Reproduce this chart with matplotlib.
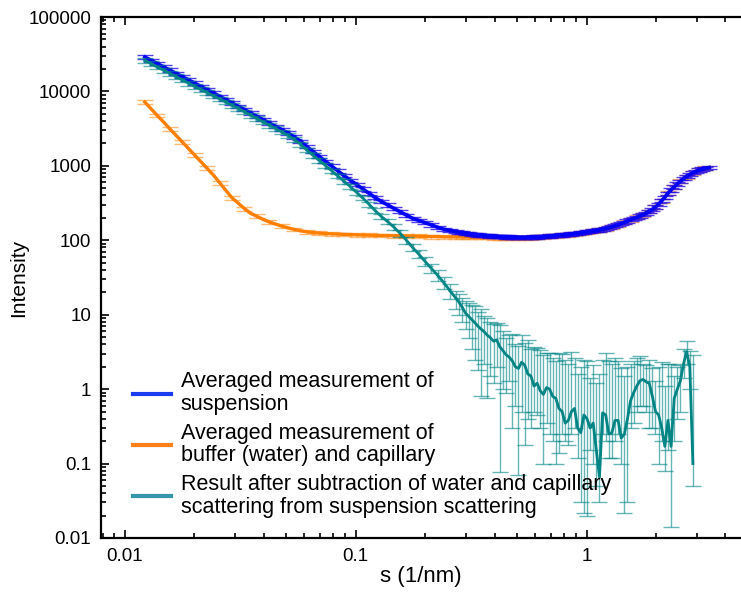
import numpy as np
import matplotlib
matplotlib.use('Agg')
import matplotlib.pyplot as plt
from matplotlib import ticker
from matplotlib.lines import Line2D

# scattering vector s (1/nm), shared by all three curves
s = [0.01220, 0.01298, 0.01381, 0.01470, 0.01564, 0.01664, 0.01771, 0.01884,
     0.02005, 0.02134, 0.02270, 0.02416, 0.02571, 0.02735, 0.02911, 0.03097,
     0.03296, 0.03507, 0.03732, 0.03971, 0.04226, 0.04497, 0.04785, 0.05092,
     0.05418, 0.05765, 0.06135, 0.06528, 0.06947, 0.07392, 0.07866, 0.08370,
     0.08907, 0.09478, 0.1009, 0.1073, 0.1142, 0.1215, 0.1293, 0.1376,
     0.1464, 0.1558, 0.1658, 0.1764, 0.1877, 0.1998, 0.2126, 0.2262,
     0.2407, 0.2561,
     # denser from here on
     0.2725, 0.2811, 0.2900, 0.2991, 0.3086, 0.3183, 0.3284, 0.3387,
     0.3494, 0.3604, 0.3718, 0.3836, 0.3957, 0.4082, 0.4210, 0.4343,
     0.4480, 0.4621, 0.4767, 0.4918, 0.5073, 0.5233, 0.5398, 0.5568,
     0.5744, 0.5925, 0.6112, 0.6305, 0.6504, 0.6709, 0.6921, 0.7139,
     0.7365, 0.7597, 0.7837, 0.8084, 0.8339, 0.8602, 0.8874, 0.9154,
     0.9443, 0.9742, 1.005, 1.037, 1.069, 1.103, 1.138, 1.174,
     1.211, 1.249, 1.288, 1.329, 1.371, 1.414, 1.459, 1.505,
     1.552, 1.601, 1.652, 1.704, 1.758, 1.813, 1.870, 1.929,
     1.990, 2.053, 2.118, 2.185, 2.254, 2.325, 2.398, 2.474,
     2.552, 2.633, 2.716, 2.802, 2.890, 2.981, 3.075, 3.172,
     3.272, 3.400]

# averaged measurement of suspension
suspension = [29000, 26200, 23700, 21400, 19400, 17500, 15850, 14330,
              12960, 11720, 10600, 9560, 8620, 7770, 7010, 6320,
              5700, 5140, 4630, 4180, 3770, 3400, 3060, 2760,
              2450, 2150, 1820, 1560, 1340, 1155, 995, 855,
              736, 641, 560, 490, 428, 374, 331, 298,
              268, 242, 218, 197, 185, 172, 161, 150,
              141, 135,
              130, 128, 126, 124.5, 123, 121, 119, 118,
              117, 116, 115, 114, 113, 112.5, 112, 111.5,
              111, 110.5, 110, 110, 110, 110, 110, 110,
              110, 110.5, 111, 111.5, 112, 113, 114, 115,
              116, 117, 118, 119, 120, 121.5, 123, 124.5,
              126, 128, 130, 132, 134, 136, 138, 141,
              144, 148, 152, 157, 162, 168, 175, 182,
              190, 197, 205, 213, 222, 232, 245, 260,
              280, 305, 340, 380, 430, 475, 520, 570,
              620, 670, 720, 765, 810, 848, 880, 908,
              930, 950]

# averaged measurement of buffer (water) and capillary
buffer = [7200, 5850, 4750, 3900, 3150, 2580, 2100, 1710,
          1390, 1130, 925, 755, 595, 470, 372, 315,
          267, 230, 210, 191, 176, 165, 155, 147,
          140, 134, 130, 127, 125, 123, 122, 121,
          120, 119, 118, 117.5, 117, 116.5, 116, 115.5,
          115, 114.5, 114, 113.5, 113, 112.5, 112, 112,
          111.5, 111,
          111, 111, 110.5, 110.5, 110.5, 110, 110, 110,
          110, 109.5, 109.5, 109, 109, 108.5, 108.5, 108,
          108, 108, 107.5, 108, 108, 108, 108, 108.5,
          108.5, 109.5, 110, 110.5, 111, 112, 113, 114,
          115, 116.5, 117.5, 118.5, 119.5, 121, 122.5, 124,
          125.5, 127.5, 129.5, 131.5, 133.5, 136, 138, 140.5,
          143.5, 147.5, 151.5, 156.5, 161.5, 168, 175, 181.5,
          189, 196, 204, 212, 221, 231, 244, 259,
          279.5, 304.5, 339.5, 380, 429.5, 475, 519, 569,
          619, 668, 717, 763, 810, 848, 880, 908,
          930, 950]

# result after subtraction (runs up to s = 2.89)
result = [26100, 23600, 21300, 19300, 17500, 15800, 14300, 12900,
          11700, 10600, 9650, 8750, 7950, 7200, 6520, 5900,
          5320, 4800, 4320, 3900, 3520, 3170, 2850, 2560,
          2260, 1960, 1630, 1390, 1185, 1010, 860, 730,
          620, 525, 440, 370, 305, 250, 208, 178,
          150, 124, 100, 80, 65, 52, 42, 34,
          27, 21,
          16.5, 14.5, 12.5, 10.5, 9.5, 8.6, 7.8, 7.0,
          6.4, 5.9, 5.3, 4.9, 4.4, 4.6, 3.7, 3.3,
          2.9, 2.7, 2.4, 2.0, 1.9, 2.3, 2.1, 1.6,
          1.5, 1.1, 1.2, 0.95, 0.85, 1.05, 1.0, 0.8,
          0.75, 0.55, 0.5, 0.35, 0.38, 0.5, 0.55, 0.3,
          0.26, 0.45, 0.4, 0.3, 0.35, 0.15, 0.066, 0.48,
          0.45, 0.25, 0.26, 0.38, 0.38, 0.22, 0.25, 0.4,
          0.7, 0.9, 1.1, 1.3, 1.35, 1.25, 1.2, 0.8,
          0.5, 0.45, 0.3, 0.17, 0.38, 0.17, 0.75, 1.0,
          1.3, 2.2, 3.2, 2.0, 0.1]
result_lo = [24300, 21900, 19800, 17900, 16300, 14700, 13300, 12000,
             10900, 9860, 8970, 8140, 7390, 6700, 6060, 5490,
             4950, 4460, 4020, 3630, 3270, 2950, 2650, 2380,
             2100, 1820, 1515, 1290, 1100, 940, 800, 679,
             577, 488, 409, 344, 283, 232, 192, 164,
             137, 112, 90, 71, 57, 45, 36, 28.5,
             22, 16.5,
             12, 10, 8, 6.5, 4.8, 3.5, 2.5, 1.8,
             0.8, 2.2, 0.75, 1.5, 1.2, 2.0, 0.077, 1.0,
             0.9, 1.3, 0.3, 0.6, 0.07, 0.5, 0.18, 0.4,
             0.3, 0.5, 0.45, 0.3, 0.1, 0.35, 0.25, 0.2,
             0.1, 0.14, 0.25, 0.2, 0.18, 0.25, 0.3, 0.12,
             0.03, 0.022, 0.02, 0.15, 0.1, 0.05, 0.03, 0.25,
             0.2, 0.12, 0.12, 0.2, 0.25, 0.1, 0.022, 0.03,
             0.3, 0.35, 0.5, 0.6, 0.6, 0.5, 0.3, 0.3,
             0.25, 0.1, 0.2, 0.08, 0.15, 0.014, 0.2, 0.4,
             0.5, 1.4, 2.2, 1.0, 0.05]
result_hi = [27900, 25300, 22800, 20700, 18700, 16900, 15300, 13800,
             12500, 11340, 10330, 9360, 8510, 7700, 6980, 6310,
             5690, 5140, 4620, 4170, 3770, 3390, 3050, 2740,
             2420, 2100, 1745, 1490, 1270, 1080, 920, 781,
             663, 562, 471, 396, 327, 268, 224, 192,
             163, 136, 110, 89, 73, 59, 48, 39.5,
             32, 25.5,
             21, 19, 17, 15.5, 14.5, 13.5, 13, 11,
             12, 9.5, 9, 8, 7.5, 7.8, 7.3, 6.0,
             4.9, 5.3, 5.5, 4.0, 3.8, 5.3, 4.2, 4.6,
             3.5, 3.7, 3.6, 3.4, 2.9, 3.1, 3.1, 2.6,
             2.4, 3.1, 3.0, 2.5, 2.2, 3.2, 2.6, 1.6,
             2.0, 2.5, 2.4, 1.4, 2.1, 1.2, 1.6, 2.5,
             3.1, 2.4, 2.2, 2.6, 2.4, 1.9, 1.5, 2.0,
             2.2, 2.4, 2.6, 2.8, 2.2, 2.1, 2.5, 1.9,
             1.3, 2.0, 2.3, 1.1, 2.2, 2.2, 1.5, 2.0,
             2.1, 3.5, 4.4, 3.3, 2.9]

suspension_rel_err = 0.05
buffer_rel_err = 0.06

labels = ["Averaged measurement of\nsuspension",
          "Averaged measurement of\nbuffer (water) and capillary",
          "Result after subtraction of water and capillary\nscattering from suspension scattering"]

assert len(s) == len(suspension) == len(buffer)
assert len(result) == len(result_lo) == len(result_hi)

plt.rcParams['font.family'] = ['Liberation Sans', 'DejaVu Sans']

s = np.array(s)
suspension = np.array(suspension, dtype=float)
buffer = np.array(buffer, dtype=float)
result = np.array(result, dtype=float)
result_lo = np.array(result_lo, dtype=float)
result_hi = np.array(result_hi, dtype=float)

fig = plt.figure(figsize=(7.41, 5.94), dpi=100)
ax = fig.add_axes([101 / 741, 1 - 538 / 594, 1 - 101 / 741, 521 / 594])

ax.errorbar(s, buffer, yerr=buffer * buffer_rel_err, color='#ff8000', lw=2.4,
            ecolor=(1.0, 0.55, 0.1, 0.6), elinewidth=1, capsize=6, capthick=1,
            errorevery=2, zorder=2)
ax.errorbar(s, suspension, yerr=suspension * suspension_rel_err, color='#0000f5', lw=2.6,
            ecolor=(0.1, 0.0, 0.9, 0.75), elinewidth=1, capsize=6, capthick=1, zorder=3)
n = len(result)
ax.errorbar(s[:n], result, yerr=[result - result_lo, result_hi - result],
            color='#008484', lw=2.0, ecolor=(0.0, 0.52, 0.52, 0.6),
            elinewidth=1, capsize=6, capthick=1, zorder=4)

ax.set_xscale('log')
ax.set_yscale('log')
ax.set_xlim(0.00788, 4.67)
ax.set_ylim(0.01, 100000)

ax.set_xticks([0.01, 0.1, 1])
ax.set_yticks([0.01, 0.1, 1, 10, 100, 1000, 10000, 100000])
fmt = ticker.FuncFormatter(lambda v, p: ('%f' % v).rstrip('0').rstrip('.'))
ax.xaxis.set_major_formatter(fmt)
ax.yaxis.set_major_formatter(fmt)
for axis in (ax.xaxis, ax.yaxis):
    axis.set_minor_locator(ticker.LogLocator(base=10, subs=np.arange(2, 10), numticks=100))
    axis.set_minor_formatter(ticker.NullFormatter())

ax.tick_params(which='both', direction='in', top=True, right=False, width=1.2,
               labelsize=13.5, pad=7)
ax.tick_params(which='major', length=6)
ax.tick_params(which='minor', length=3.5)
for side in ('left', 'bottom', 'top'):
    ax.spines[side].set_linewidth(1.6)
ax.spines['right'].set_visible(False)

ax.set_xlabel('s (1/nm)', fontsize=16, labelpad=1)
ax.set_ylabel('Intensity', fontsize=15, labelpad=0)

handles = [Line2D([], [], color='#1a3cf0', lw=3),
           Line2D([], [], color='#ff7f1a', lw=3),
           Line2D([], [], color='#3399aa', lw=3)]
leg = ax.legend(handles, labels, loc='lower left', bbox_to_anchor=(0.026, 0.01),
                frameon=False, fontsize=15.5, handlelength=1.8, handletextpad=0.42,
                labelspacing=0.36, borderaxespad=0.3)
for t in leg.get_texts():
    t.set_linespacing(1.1)

fig.savefig('out.png', dpi=100)
